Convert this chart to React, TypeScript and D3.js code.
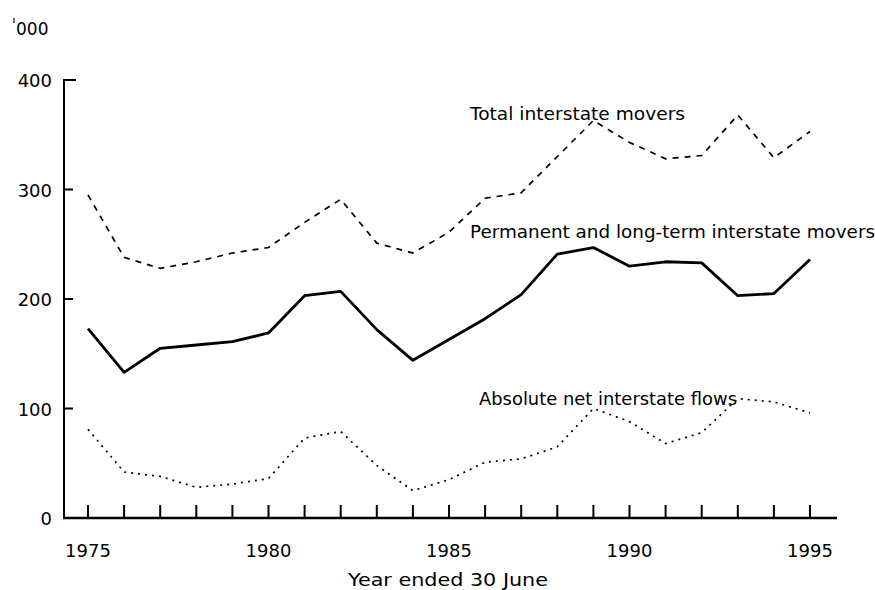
import React, { useEffect, useRef } from 'react';
import * as d3 from 'd3';

const years = d3.range(1975, 1996);
const totalMovers = [295, 238, 228, 234, 242, 247, 270, 291, 251, 242, 261, 292, 297, 330, 363, 343, 328, 331, 368, 329, 353];
const permanentMovers = [173, 133, 155, 158, 161, 169, 203, 207, 172, 144, 163, 182, 204, 241, 247, 230, 234, 233, 203, 205, 236];
const netFlows = [81, 42, 38, 28, 31, 36, 73, 79, 48, 25, 35, 51, 54, 65, 100, 88, 68, 78, 109, 106, 96];
const yTicks = [0, 100, 200, 300, 400];
const xTickLabels = [1975, 1980, 1985, 1990, 1995];

const FONT = '"DejaVu Sans", "Liberation Sans", Arial, sans-serif';

const App = () => {
  const svgRef = useRef<SVGSVGElement>(null);

  useEffect(() => {
    const svg = d3.select(svgRef.current);
    svg.selectAll('*').remove();

    const x = d3.scaleLinear().domain([1975, 1995]).range([88, 810]);
    const y = d3.scaleLinear().domain([0, 400]).range([518, 80]);

    // axes
    svg.append('line')
      .attr('x1', 64).attr('x2', 64)
      .attr('y1', y(400) - 1).attr('y2', y(0) + 1)
      .attr('stroke', '#000').attr('stroke-width', 2);
    svg.append('line')
      .attr('x1', 63).attr('x2', 837)
      .attr('y1', y(0)).attr('y2', y(0))
      .attr('stroke', '#000').attr('stroke-width', 2.5);

    svg.selectAll('.ytick')
      .data(yTicks)
      .enter()
      .append('line')
      .attr('x1', 64).attr('x2', (d) => (d === 400 ? 76 : 73))
      .attr('y1', (d) => y(d)).attr('y2', (d) => y(d))
      .attr('stroke', '#000').attr('stroke-width', 2);

    svg.selectAll('.ylab')
      .data(yTicks)
      .enter()
      .append('text')
      .attr('x', 52)
      .attr('y', (d) => y(d) + 7)
      .attr('text-anchor', 'end')
      .attr('font-family', FONT)
      .attr('font-size', 18)
      .text((d) => d);

    // unit label: small raised tick then 000
    svg.append('line')
      .attr('x1', 14).attr('x2', 14)
      .attr('y1', 18).attr('y2', 23)
      .attr('stroke', '#000').attr('stroke-width', 1.2);
    svg.append('text')
      .attr('x', 16).attr('y', 35)
      .attr('font-family', FONT)
      .attr('font-size', 17)
      .text('000');

    svg.selectAll('.xtick')
      .data(years)
      .enter()
      .append('line')
      .attr('x1', (d) => x(d)).attr('x2', (d) => x(d))
      .attr('y1', y(0) - 13).attr('y2', y(0))
      .attr('stroke', '#000').attr('stroke-width', 2);

    svg.selectAll('.xlab')
      .data(xTickLabels)
      .enter()
      .append('text')
      .attr('x', (d) => x(d))
      .attr('y', 557)
      .attr('text-anchor', 'middle')
      .attr('font-family', FONT)
      .attr('font-size', 18)
      .text((d) => d);

    svg.append('text')
      .attr('x', 448).attr('y', 586)
      .attr('text-anchor', 'middle')
      .attr('font-family', FONT)
      .attr('font-size', 18)
      .attr('textLength', 200)
      .attr('lengthAdjust', 'spacingAndGlyphs')
      .text('Year ended 30 June');

    const line = d3.line<number>()
      .x((d, i) => x(years[i]))
      .y((d) => y(d));

    svg.append('path')
      .attr('d', line(totalMovers))
      .attr('fill', 'none')
      .attr('stroke', '#000')
      .attr('stroke-width', 1.7)
      .attr('stroke-dasharray', '6,6');

    svg.append('path')
      .attr('d', line(permanentMovers))
      .attr('fill', 'none')
      .attr('stroke', '#000')
      .attr('stroke-width', 2.8)
      .attr('stroke-linejoin', 'round');

    svg.append('path')
      .attr('d', line(netFlows))
      .attr('fill', 'none')
      .attr('stroke', '#000')
      .attr('stroke-width', 1.7)
      .attr('stroke-dasharray', '2,5');

    const labels = [
      { text: 'Total interstate movers', x: 470, y: 120, w: 215 },
      { text: 'Permanent and long-term interstate movers', x: 470, y: 238, w: 405 },
      { text: 'Absolute net interstate flows', x: 479, y: 405, w: 258 },
    ];
    svg.selectAll('.serieslab')
      .data(labels)
      .enter()
      .append('text')
      .attr('x', (d) => d.x)
      .attr('y', (d) => d.y)
      .attr('font-family', FONT)
      .attr('font-size', 17)
      .attr('textLength', (d) => d.w)
      .attr('lengthAdjust', 'spacingAndGlyphs')
      .text((d) => d.text);
  }, []);

  return (
    <svg
      ref={svgRef}
      width={875}
      height={590}
      style={{ position: 'absolute', left: 0, top: 0, background: '#fff' }}
    />
  );
};

export default App;
